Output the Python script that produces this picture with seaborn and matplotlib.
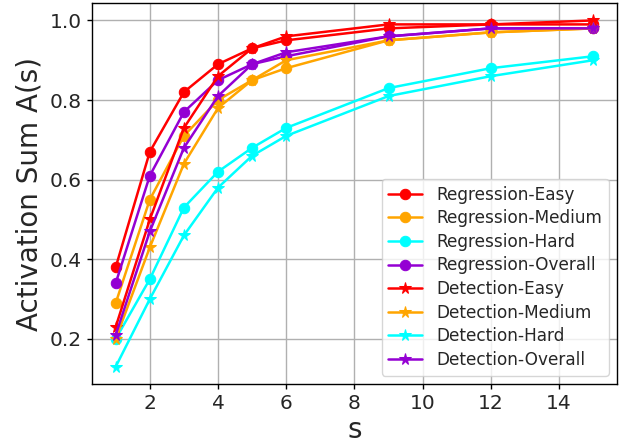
import matplotlib
matplotlib.use("Agg")
import matplotlib.pyplot as plt
import seaborn as sns

# step sizes on the x axis
s_vals = [1, 2, 3, 4, 5, 6, 9, 12, 15]

# activation sums
reg_easy = [0.38, 0.67, 0.82, 0.89, 0.93, 0.95, 0.98, 0.99, 0.99]
reg_medium = [0.29, 0.55, 0.71, 0.80, 0.85, 0.88, 0.95, 0.97, 0.98]
reg_hard = [0.20, 0.35, 0.53, 0.62, 0.68, 0.73, 0.83, 0.88, 0.91]
reg_overall = [0.34, 0.61, 0.77, 0.85, 0.89, 0.91, 0.96, 0.98, 0.98]
det_easy = [0.23, 0.50, 0.73, 0.86, 0.93, 0.96, 0.99, 0.99, 1.00]
det_medium = [0.20, 0.43, 0.64, 0.78, 0.85, 0.90, 0.95, 0.97, 0.98]
det_hard = [0.13, 0.30, 0.46, 0.58, 0.66, 0.71, 0.81, 0.86, 0.90]
det_overall = [0.21, 0.47, 0.68, 0.81, 0.89, 0.92, 0.96, 0.98, 0.98]

series = [
    ("Regression-Easy", reg_easy, "red", "o"),
    ("Regression-Medium", reg_medium, "orange", "o"),
    ("Regression-Hard", reg_hard, "cyan", "o"),
    ("Regression-Overall", reg_overall, "darkviolet", "o"),
    ("Detection-Easy", det_easy, "red", "*"),
    ("Detection-Medium", det_medium, "orange", "*"),
    ("Detection-Hard", det_hard, "cyan", "*"),
    ("Detection-Overall", det_overall, "darkviolet", "*"),
]

sns.set_style("ticks")
plt.rcParams["font.family"] = ["DejaVu Sans"]

fig, ax = plt.subplots(figsize=(6.29, 4.44), dpi=100)

for name, vals, color, marker in series:
    sns.lineplot(x=s_vals, y=vals, ax=ax, color=color, marker=marker,
                 markersize=7.5 if marker == "o" else 8.5, markeredgecolor=color,
                 linewidth=1.8, label=name)

ax.set_xticks([2, 4, 6, 8, 10, 12, 14])
ax.set_yticks([0.2, 0.4, 0.6, 0.8, 1.0])
ax.grid(True, color="#b0b0b0", linewidth=1)
ax.set_axisbelow(True)
ax.tick_params(labelsize=14.5, direction="out", length=3.5, width=1, color="black")
for sp in ax.spines.values():
    sp.set_color("black")
    sp.set_linewidth(1)
ax.set_xlabel("s", fontsize=20, labelpad=2)
ax.set_ylabel("Activation Sum A(s)", fontsize=20, labelpad=5)
ax.legend(loc="lower right", fontsize=12.2, frameon=True, framealpha=0.8,
          edgecolor="#cccccc", borderaxespad=0.5, handlelength=2,
          labelspacing=0.33)

fig.subplots_adjust(left=0.146, right=0.981, top=0.993, bottom=0.135)
fig.savefig("out.png", dpi=100)
